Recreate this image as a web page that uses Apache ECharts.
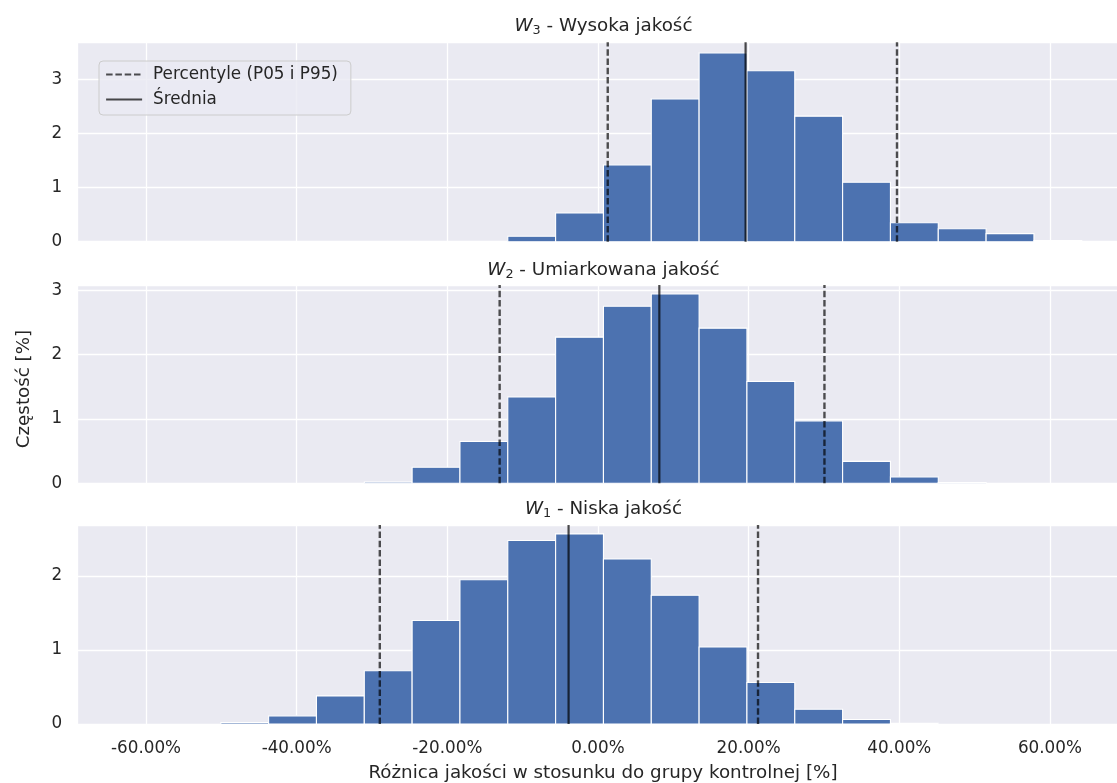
<!DOCTYPE html>
<html><head><meta charset="utf-8">
<script src="https://cdn.jsdelivr.net/npm/echarts@6/dist/echarts.min.js"></script>
<style>html,body{margin:0;padding:0;background:#fff}#c{width:1117px;height:783px}</style>
</head><body><div id="c"></div>
<script>
// ---- data ----
const binEdges = [-62.77,-56.42,-50.07,-43.72,-37.37,-31.02,-24.67,-18.32,-11.97,-5.62,0.73,7.08,13.43,19.78,26.13,32.48,38.83,45.18,51.53,57.88,64.23];
const panelSub = ["3", "2", "1"];
const panelNames = ["Wysoka jakość", "Umiarkowana jakość", "Niska jakość"];
const freqW3 = [0,0,0,0,0,0,0,0,0.10,0.53,1.42,2.64,3.49,3.16,2.32,1.10,0.35,0.24,0.15,0.02];
const freqW2 = [0,0,0,0,0,0.02,0.25,0.65,1.34,2.27,2.75,2.94,2.41,1.58,0.97,0.34,0.10,0.01,0,0];
const freqW1 = [0,0,0.02,0.11,0.38,0.72,1.40,1.95,2.48,2.57,2.23,1.74,1.04,0.56,0.20,0.06,0.01,0,0,0];
const p05 = [1.3, -13.05, -28.96];
const p95 = [39.7, 30.07, 21.25];
const means = [19.6, 8.15, -3.9];
const xTicks = [-60, -40, -20, 0, 20, 40, 60];
const yTicks = [[0,1,2,3],[0,1,2,3],[0,1,2]];
const yMax = [3.685, 3.08, 2.69];
const xRange = [-69.12, 70.58];
const legendNames = ["Percentyle (P05 i P95)", "Średnia"];
const xLabelText = "Różnica jakości w stosunku do grupy kontrolnej [%]";
const yLabelText = "Częstość [%]";

// ---- layout / style ----
const FF = "DejaVu Sans";
const TXT = "#262626";
const freqs = [freqW3, freqW2, freqW1];
const gridTops = [42.3, 285, 525];
const gridHeights = [199.4, 198.3, 199];
const gridLeft = 77.3, gridWidth = 1052.3;
const titleTops = [16.8, 260.8, 499.8];
const dashColor = "rgba(0,0,0,0.68)";
const meanColor = "rgba(0,0,0,0.7)";

const grids = [], xAxes = [], yAxes = [], series = [];
for (let i = 0; i < 3; i++) {
  grids.push({ left: gridLeft, width: gridWidth, top: gridTops[i], height: gridHeights[i],
    show: true, backgroundColor: "#EAEAF2", borderWidth: 0, containLabel: false, outerBoundsMode: "none" });
  xAxes.push({ type: "value", gridIndex: i, min: xRange[0], max: xRange[1],
    splitNumber: 7, minInterval: 20, maxInterval: 20,
    axisLine: { show: false }, axisTick: { show: false },
    splitLine: { show: true, lineStyle: { color: "#ffffff", width: 1.3 } },
    axisLabel: { show: i === 2, margin: 16, fontFamily: FF, fontSize: 16.8, color: TXT,
      formatter: v => { const r = Math.round(v * 100) / 100; return xTicks.includes(r) ? r.toFixed(2) + "%" : ""; } } });
  yAxes.push({ type: "value", gridIndex: i, min: 0, max: yMax[i], interval: 1,
    axisLine: { show: false }, axisTick: { show: false },
    splitLine: { show: true, lineStyle: { color: "#ffffff", width: 1.3 } },
    axisLabel: { margin: 15, fontFamily: FF, fontSize: 16.8, color: TXT,
      formatter: v => yTicks[i].includes(v) ? String(v) : "" } });
  const data = [];
  for (let k = 0; k < freqs[i].length; k++) {
    if (freqs[i][k] > 0) data.push([binEdges[k], binEdges[k + 1], freqs[i][k]]);
  }
  series.push({ type: "custom", name: "W" + panelSub[i], xAxisIndex: i, yAxisIndex: i, z: 2,
    encode: { x: [0, 1], y: 2 }, data: data, silent: true,
    renderItem: (params, api) => {
      const a = api.coord([api.value(0), api.value(2)]);
      const b = api.coord([api.value(1), 0]);
      return { type: "rect", shape: { x: a[0], y: a[1], width: b[0] - a[0], height: b[1] - a[1] },
        style: { fill: "#4C72B0", stroke: "#ffffff", lineWidth: 1.1 } };
    } });
  const mkLine = (name, xv, color, type, w) => ({
    type: "line", name: name, xAxisIndex: i, yAxisIndex: i, z: 5, silent: true,
    symbol: "none", showSymbol: false, animation: false,
    itemStyle: { color: color },
    lineStyle: { color: color, width: w, type: type },
    data: [[xv, 0], [xv, yMax[i]]] });
  series.push(mkLine(legendNames[0], p05[i], dashColor, [6.5, 2.8], 2.4));
  series.push(mkLine(legendNames[0], p95[i], dashColor, [6.5, 2.8], 2.4));
  series.push(mkLine(legendNames[1], means[i], meanColor, "solid", 2.2));
}

const graphic = [];
for (let i = 0; i < 3; i++) {
  graphic.push({ type: "text", x: gridLeft + gridWidth / 2, y: titleTops[i], z: 10,
    style: { text: "{w|W}{s|" + panelSub[i] + "}{t| - " + panelNames[i] + "}",
      align: "center", verticalAlign: "top",
      rich: {
        w: { fontFamily: FF, fontSize: 18.3, fontStyle: "italic", fill: TXT, lineHeight: 20, padding: [0, 0, 1, 0], verticalAlign: "top" },
        s: { fontFamily: FF, fontSize: 12.8, fill: TXT, lineHeight: 13, verticalAlign: "bottom" },
        t: { fontFamily: FF, fontSize: 18.3, fill: TXT, lineHeight: 20, padding: [0, 0, 1, 0], verticalAlign: "top" }
      } } });
}
graphic.push({ type: "text", x: 603, y: 773, z: 10,
  style: { text: xLabelText, fontFamily: FF, fontSize: 18.3, fill: TXT, align: "center", verticalAlign: "middle" } });
graphic.push({ type: "text", x: 24, y: 389, rotation: Math.PI / 2, z: 10,
  style: { text: yLabelText, fontFamily: FF, fontSize: 18.3, fill: TXT, align: "center", verticalAlign: "middle" } });

const chart = echarts.init(document.getElementById("c"), null, { renderer: "canvas" });
chart.setOption({
  animation: false,
  backgroundColor: "#ffffff",
  textStyle: { fontFamily: FF },
  grid: grids, xAxis: xAxes, yAxis: yAxes, series: series, graphic: graphic,
  legend: { data: legendNames, orient: "vertical", left: 99, top: 61,
    itemWidth: 36, itemHeight: 14, itemGap: 8, padding: [5, 13, 7, 6],
    backgroundColor: "rgba(234,234,242,0.8)", borderColor: "#cccccc", borderWidth: 1, borderRadius: 4,
    textStyle: { fontFamily: FF, fontSize: 16.8, color: TXT, lineHeight: 17, padding: [0, 0, 0, 6] },
    itemStyle: { opacity: 0 }, lineStyle: { width: 2.2 }, selectedMode: false }
});
</script></body></html>
